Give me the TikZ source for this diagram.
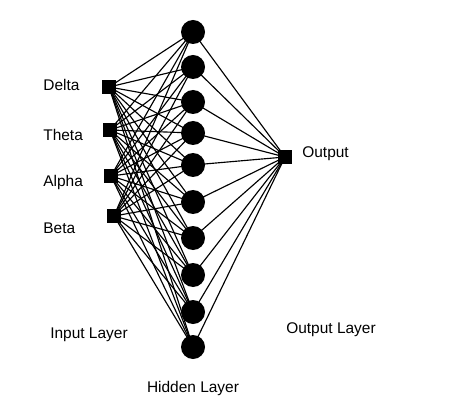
\documentclass[tikz,border=0pt]{standalone}
\usepackage{fontspec}
\setmainfont{Liberation Sans}
\begin{document}
\begin{tikzpicture}[unit/.style={fill=black,minimum size=0.28cm,inner sep=0pt},
  neuron/.style={circle,fill=black,minimum size=0.48cm,inner sep=0pt},
  lbl/.style={font=\fontsize{8.8}{10}\selectfont,inner sep=0pt},
  link/.style={line width=0.65pt}]
\fill[white] (0,0) rectangle (9.48,8.14);
% input layer
\node[unit] (delta) at (2.18,6.40) {};
\node[unit] (theta) at (2.20,5.54) {};
\node[unit] (alpha) at (2.22,4.62) {};
\node[unit] (beta) at (2.28,3.82) {};
% hidden layer
\node[neuron] (h1) at (3.86,7.50) {};
\node[neuron] (h2) at (3.86,6.80) {};
\node[neuron] (h3) at (3.86,6.10) {};
\node[neuron] (h4) at (3.86,5.48) {};
\node[neuron] (h5) at (3.86,4.84) {};
\node[neuron] (h6) at (3.86,4.10) {};
\node[neuron] (h7) at (3.86,3.38) {};
\node[neuron] (h8) at (3.86,2.64) {};
\node[neuron] (h9) at (3.86,1.90) {};
\node[neuron] (h10) at (3.86,1.20) {};
% output layer
\node[unit] (out) at (5.70,5.00) {};
% connections
\foreach \i in {delta,theta,alpha,beta}
  \foreach \h in {1,...,10}
    \draw[link] (\i.center) -- (h\h.center);
\foreach \h in {1,...,10}
  \draw[link] (h\h.center) -- (out.center);
% labels
\node[lbl,anchor=west] (ldelta) at (0.86,6.44) {Delta};
\node[lbl,anchor=west] (ltheta) at (0.86,5.44) {Theta};
\node[lbl,anchor=west] (lalpha) at (0.86,4.48) {Alpha};
\node[lbl,anchor=west] (lbeta) at (0.86,3.58) {Beta};
\node[lbl,anchor=west] (lout) at (6.04,5.06) {Output};
\node[lbl] (linput) at (1.78,1.44) {Input Layer};
\node[lbl] (lhidden) at (3.86,0.38) {Hidden Layer};
\node[lbl] (loutput) at (6.62,1.54) {Output Layer};
\end{tikzpicture}
\end{document}
